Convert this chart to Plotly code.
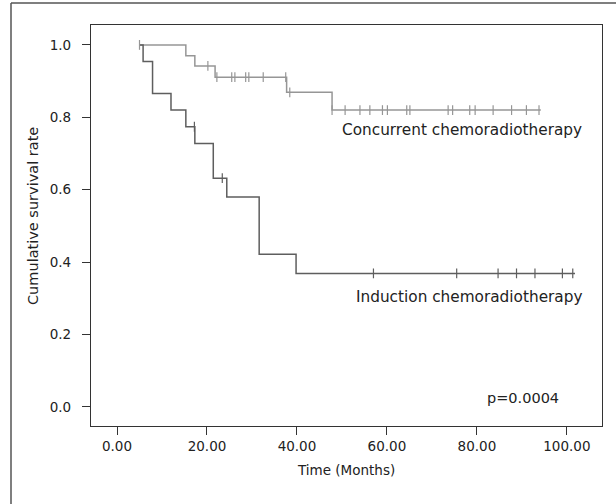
import plotly.graph_objects as go

# Concurrent chemoradiotherapy: KM steps
cc_times = [5.0, 15.3, 17.3, 21.8, 37.7, 47.8, 94.2]
cc_surv = [1.0, 0.970, 0.942, 0.911, 0.869, 0.820, 0.820]
cc_cens_t = [5.0, 20.2, 22.2, 25.5, 26.2, 28.6, 29.3, 32.5, 37.5, 38.4, 47.8, 50.7,
             54.0, 56.2, 59.0, 60.1, 64.4, 65.1, 73.6, 74.6, 78.4, 79.6, 83.6, 87.7, 91.0, 93.8]

# Induction chemoradiotherapy: KM steps
ic_times = [5.0, 5.8, 7.9, 12.0, 15.3, 17.3, 21.4, 24.4, 31.6, 39.8, 101.8]
ic_surv = [1.0, 0.954, 0.866, 0.820, 0.774, 0.728, 0.632, 0.580, 0.422, 0.369, 0.369]
ic_cens_t = [17.2, 23.4, 57.0, 75.5, 84.7, 88.8, 92.9, 99.0, 101.3]

x_ticks = [0, 20, 40, 60, 80, 100]
x_tick_labels = ["0.00", "20.00", "40.00", "60.00", "80.00", "100.00"]
y_ticks = [0.0, 0.2, 0.4, 0.6, 0.8, 1.0]
y_tick_labels = ["0.0", "0.2", "0.4", "0.6", "0.8", "1.0"]

FONT = "DejaVu Sans"
TXT = "#222222"
CC_COL = "#969696"
IC_COL = "#5e5e5e"


def surv_at(times, surv, t):
    s = surv[0]
    for ti, si in zip(times, surv):
        if ti <= t:
            s = si
    return s


fig = go.Figure()
fig.add_trace(go.Scatter(x=cc_times, y=cc_surv, mode="lines", line=dict(shape="hv", color=CC_COL, width=1.5),
                         hoverinfo="skip", showlegend=False))
fig.add_trace(go.Scatter(x=ic_times, y=ic_surv, mode="lines", line=dict(shape="hv", color=IC_COL, width=1.5),
                         hoverinfo="skip", showlegend=False))
fig.add_trace(go.Scatter(x=cc_cens_t, y=[surv_at(cc_times, cc_surv, t) for t in cc_cens_t], mode="markers",
                         marker=dict(symbol="line-ns", size=7, line=dict(color=CC_COL, width=1.2)),
                         hoverinfo="skip", showlegend=False))
fig.add_trace(go.Scatter(x=ic_cens_t, y=[surv_at(ic_times, ic_surv, t) for t in ic_cens_t], mode="markers",
                         marker=dict(symbol="line-ns", size=7, line=dict(color=IC_COL, width=1.2)),
                         hoverinfo="skip", showlegend=False))

L, R, T, B = 91, 14, 25, 78
W, H = 616, 504
pw, ph = W - L - R, H - T - B


def px(x):
    return (x - L) / pw


def py(y):
    return (H - B - y) / ph


axis_common = dict(ticks="outside", ticklen=8, tickcolor="#333", showgrid=False, zeroline=False,
                   showline=True, linecolor="#333", linewidth=1.3, mirror=True,
                   tickfont=dict(size=13.5, color=TXT))

fig.update_layout(
    width=W, height=H,
    margin=dict(l=L, r=R, t=T, b=B),
    paper_bgcolor="white", plot_bgcolor="white",
    font=dict(family=FONT, size=12.5, color=TXT),
    xaxis=dict(range=[-5.78, 107.8], tickvals=x_ticks, ticktext=x_tick_labels, **axis_common),
    yaxis=dict(range=[-0.0525, 1.055], tickvals=y_ticks, ticktext=y_tick_labels, ticklabelstandoff=8,
               **axis_common),
    shapes=[
        dict(type="line", xref="paper", yref="paper", x0=px(11), x1=px(11), y0=py(3), y1=py(520),
             line=dict(color="#555", width=1.5)),
        dict(type="line", xref="paper", yref="paper", x0=px(11), x1=px(630), y0=py(3), y1=py(3),
             line=dict(color="#555", width=1.5)),
    ],
    annotations=[
        dict(text="Time (Months)", x=px(346), y=py(470), xref="paper", yref="paper",
             xanchor="center", yanchor="middle", showarrow=False, font=dict(size=13.5)),
        dict(text="Cumulative survival rate", x=px(33), y=py(216), xref="paper", yref="paper",
             xanchor="center", yanchor="middle", showarrow=False, textangle=-90, font=dict(size=14.5)),
        dict(text="Concurrent chemoradiotherapy", x=px(584), y=py(130), xref="paper", yref="paper",
             xanchor="right", yanchor="middle", showarrow=False, font=dict(size=15.3)),
        dict(text="Induction chemoradiotherapy", x=px(584), y=py(297), xref="paper", yref="paper",
             xanchor="right", yanchor="middle", showarrow=False, font=dict(size=15.3)),
        dict(text="p=0.0004", x=px(561), y=py(398), xref="paper", yref="paper",
             xanchor="right", yanchor="middle", showarrow=False, font=dict(size=14.5)),
    ],
)

fig.write_html("out.html", config={"displayModeBar": False},
               post_script="document.body.style.margin='0';")
